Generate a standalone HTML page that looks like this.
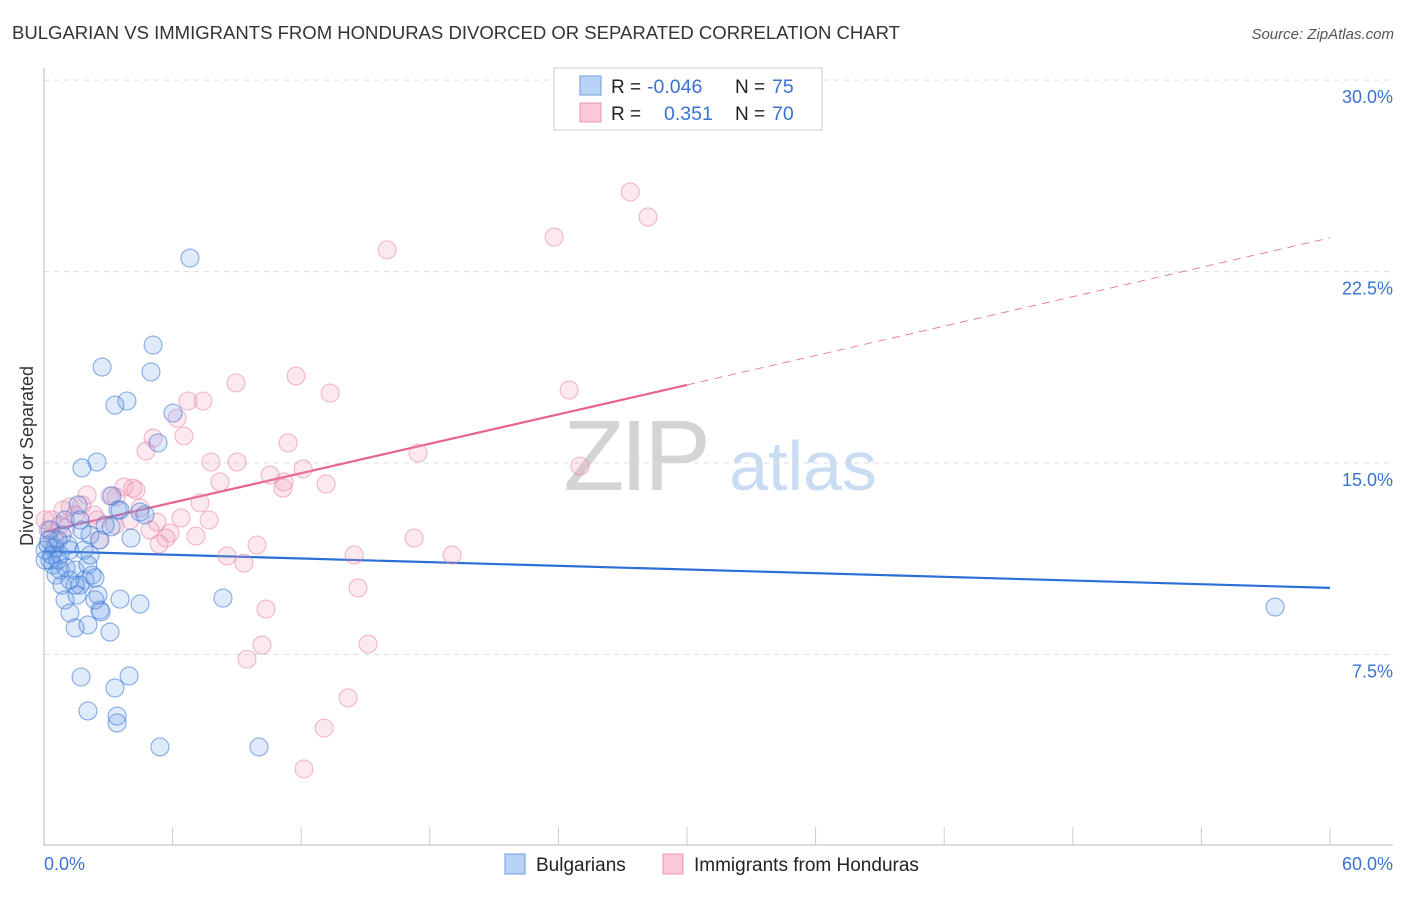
<!DOCTYPE html>
<html><head><meta charset="utf-8"><style>
body{margin:0;background:#fff;font-family:"Liberation Sans",sans-serif;}
svg text{font-family:"Liberation Sans",sans-serif;}
</style></head><body>
<svg id="chart" width="1406" height="892" xmlns="http://www.w3.org/2000/svg">
<text x="12" y="39" font-size="18" fill="#333" textLength="888" lengthAdjust="spacingAndGlyphs">BULGARIAN VS IMMIGRANTS FROM HONDURAS DIVORCED OR SEPARATED CORRELATION CHART</text>
<text x="1394" y="39" font-size="15" fill="#555" text-anchor="end" font-style="italic">Source: ZipAtlas.com</text>
<text transform="translate(33,456) rotate(-90)" font-size="18" fill="#333" text-anchor="middle">Divorced or Separated</text>
<g>
<text x="635" y="490" font-size="100" fill="#d4d4d4" text-anchor="middle" font-family="Liberation Serif" letter-spacing="-4">ZIP</text>
<text x="803" y="490" font-size="70" fill="#cadcf2" text-anchor="middle">atlas</text>
</g>
<g id="grid"></g><g id="axes"></g><g id="trend"></g><g id="pts"></g>
<g>
<rect x="554" y="68" width="268" height="62" fill="#fff" stroke="#ccc"/>
<rect x="580" y="76" width="21" height="19" fill="#b8d3f5" stroke="#6b9de0"/>
<rect x="580" y="103" width="21" height="19" fill="#fbc8d7" stroke="#ea94b0"/>
<text x="611" y="93" font-size="19" fill="#222">R =</text>
<text x="647" y="93" font-size="19.5" fill="#3b72d0">-0.046</text>
<text x="735" y="93" font-size="19" fill="#222">N =</text>
<text x="772" y="93" font-size="19.5" fill="#3b72d0">75</text>
<text x="611" y="120" font-size="19" fill="#222">R =</text>
<text x="664" y="120" font-size="19.5" fill="#3b72d0">0.351</text>
<text x="735" y="120" font-size="19" fill="#222">N =</text>
<text x="772" y="120" font-size="19.5" fill="#3b72d0">70</text>
</g>
<g>
<rect x="505" y="854" width="20" height="20" fill="#b8d3f5" stroke="#6b9de0"/>
<text x="536" y="871" font-size="19" fill="#222">Bulgarians</text>
<rect x="663" y="854" width="20" height="20" fill="#fbc8d7" stroke="#ea94b0"/>
<text x="694" y="871" font-size="19" fill="#222">Immigrants from Honduras</text>
</g>
</svg>
<script>
const yTicks=[7.5,15,22.5,30];
const yTickLabels=["7.5%","15.0%","22.5%","30.0%"];
const xTickCount=10;
const xLabels=["0.0%","60.0%"];
const blueX=[6.81,5.09,2.71,4.99,3.87,3.31,6.02,5.32,2.47,1.77,3.17,3.45,1.59,4.71,3.13,1.77,4.06,0.84,0.23,0.51,1.12,1.87,0.75,0.28,0.42,1.03,1.45,2.05,0.56,1.91,2.38,1.68,1.45,0.84,2.52,3.55,4.48,8.35,0.98,2.61,1.21,2.05,1.45,3.08,1.73,3.97,3.31,2.05,3.41,3.41,5.41,10.03,57.44,0.05,0.19,0.37,0.65,1.21,2.15,2.61,0.05,0.75,1.21,2.85,1.68,2.24,2.38,0.98,0.28,0.65,1.54,2.66,3.55,4.48,2.15];
const blueY=[23.03,19.62,18.76,18.57,17.43,17.27,16.96,15.79,15.04,14.81,13.71,13.16,13.36,12.97,12.5,12.38,12.06,12.18,11.99,11.67,11.79,11.59,11.4,11.2,11.01,10.89,10.81,11.01,10.61,10.42,10.5,10.22,10.22,10.22,9.83,9.67,9.48,9.71,9.64,9.24,9.13,8.66,8.54,8.38,6.62,6.66,6.19,5.29,5.09,4.82,3.88,3.88,9.36,11.59,11.79,11.4,11.99,11.59,12.18,11.99,11.2,10.81,10.42,12.57,12.77,10.61,9.64,12.77,12.38,11.2,9.83,9.17,13.16,13.08,11.4];
const pinkX=[27.35,28.18,23.8,16.01,11.76,8.96,24.5,13.35,6.72,7.42,6.21,6.53,5.09,4.76,11.39,17.45,7.79,9.01,25.01,10.55,12.09,8.21,11.2,11.15,13.16,3.73,4.15,4.29,2.01,3.36,3.08,7.28,1.21,1.77,0.89,4.48,2.33,0.37,0.05,0.75,2.47,4.01,5.27,6.39,7.7,0.19,1.03,2.57,4.95,5.88,5.69,7.09,5.37,17.27,9.94,14.47,8.54,19.04,9.33,14.65,10.36,10.17,15.12,9.47,14.19,13.07,12.13,0.51,1.45,3.31];
const pinkY=[25.62,24.64,23.85,23.35,18.41,18.14,17.86,17.74,17.43,17.43,16.76,16.06,15.98,15.47,15.79,15.39,15.04,15.04,14.88,14.53,14.77,14.26,14.26,14.02,14.18,14.06,14.02,13.94,13.75,13.67,13.71,13.44,13.28,13.36,13.16,13.24,12.97,12.77,12.77,12.57,12.77,12.77,12.69,12.85,12.77,12.38,12.46,11.99,12.38,12.26,12.06,12.14,11.83,12.06,11.79,11.4,11.36,11.4,11.08,10.11,9.28,7.87,7.91,7.32,5.8,4.62,3.02,11.99,12.97,12.57];
const blueTrend=[11.55,-0.024];
const pinkTrend=[12.3,0.192];
const pinkSolidEnd=30;

const NS="http://www.w3.org/2000/svg";
const X0=44,X1=1330,Y0=846,PPY=25.53;
function sx(v){return X0+(v/60)*(X1-X0);}
function sy(v){return Y0-v*PPY;}
function mk(parent,tag,attrs){const e=document.createElementNS(NS,tag);for(const k in attrs)e.setAttribute(k,attrs[k]);document.getElementById(parent).appendChild(e);return e;}
yTicks.forEach((t,i)=>{
  const g=mk('grid','line',{x1:X0,x2:1393,y1:sy(t),y2:sy(t),stroke:'#ddd','stroke-dasharray':'5,5'});
  
  
  const l=mk('grid','text',{x:1393,y:sy(t)+23,'font-size':18,fill:'#3b72d0','text-anchor':'end'});
  l.textContent=yTickLabels[i];
  
  
});
const ya=mk('axes','line',{x1:X0,x2:X0,y1:68,y2:846,stroke:'#bbb'});


const xa=mk('axes','line',{x1:X0,x2:1393,y1:845,y2:845,stroke:'#bbb'});


for(let i=1;i<=xTickCount;i++){
  const t=mk('axes','line',{x1:sx(i*6),x2:sx(i*6),y1:827,y2:845,stroke:'#ccc'});
  
  
}
[[0,'start',X0],[1,'end',1393]].forEach(([i,a,x])=>{
  const l=mk('axes','text',{x:x,y:870,'font-size':18,fill:'#3b72d0','text-anchor':a});
  l.textContent=xLabels[i];
  
  
});
function dot(x,y,fill,stroke,name){
  const c=mk('pts','circle',{cx:sx(x),cy:sy(y),r:9,fill:fill,stroke:stroke,'stroke-width':1.1});
  
  
}
pinkX.forEach((x,i)=>dot(x,pinkY[i],'rgba(240,150,180,0.22)','rgba(230,130,165,0.55)','honduras-point'));
blueX.forEach((x,i)=>dot(x,blueY[i],'rgba(110,160,230,0.22)','rgba(60,120,215,0.6)','bulgarian-point'));
const bt=mk('trend','line',{x1:sx(0),y1:sy(blueTrend[0]),x2:sx(60),y2:sy(blueTrend[0]+blueTrend[1]*60),stroke:'#2b6fd6','stroke-width':2.2});


const pt=mk('trend','line',{x1:sx(0),y1:sy(pinkTrend[0]),x2:sx(pinkSolidEnd),y2:sy(pinkTrend[0]+pinkTrend[1]*pinkSolidEnd),stroke:'#e8628f','stroke-width':2.2});


const pd=mk('trend','line',{x1:sx(pinkSolidEnd),y1:sy(pinkTrend[0]+pinkTrend[1]*pinkSolidEnd),x2:sx(60),y2:sy(pinkTrend[0]+pinkTrend[1]*60),stroke:'#e8809f','stroke-width':1,'stroke-dasharray':'8,6'});


</script>
</body></html>
